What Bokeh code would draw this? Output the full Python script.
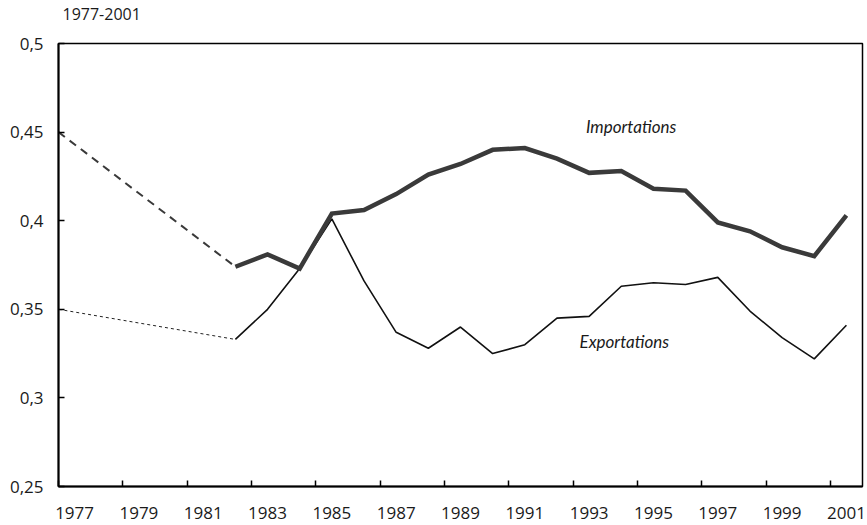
from bokeh.plotting import figure
from bokeh.models import FixedTicker, Range1d, Label, Title
from bokeh.embed import file_html
from bokeh.resources import INLINE

# ---- data ----
years = list(range(1982, 2002))
importations = [0.374, 0.381, 0.373, 0.404, 0.406, 0.415, 0.426, 0.432, 0.440, 0.441,
                0.435, 0.427, 0.428, 0.418, 0.417, 0.399, 0.394, 0.385, 0.380, 0.403]
exportations = [0.333, 0.350, 0.373, 0.401, 0.366, 0.337, 0.328, 0.340, 0.325, 0.330,
                0.345, 0.346, 0.363, 0.365, 0.364, 0.368, 0.349, 0.334, 0.322, 0.341]
start_year = 1977
imp_start = 0.45
exp_start = 0.35
x_tick_labels = [str(y) for y in range(1977, 2002, 2)]
y_ticks = [0.25, 0.3, 0.35, 0.4, 0.45, 0.5]
y_tick_labels = ["0,25", "0,3", "0,35", "0,4", "0,45", "0,5"]
period = "1977-2001"

X_START = start_year - 0.5
X_END = years[-1] + 0.5
Y_MIN, Y_MAX = y_ticks[0], y_ticks[-1]

FONT = "Open Sans"

p = figure(width=867, height=525, output_backend="svg", toolbar_location=None,
           x_range=Range1d(X_START, X_END), y_range=Range1d(Y_MIN, Y_MAX),
           min_border_left=58, min_border_right=5, min_border_top=40, min_border_bottom=39)
p.background_fill_color = "white"
p.border_fill_color = "white"
p.outline_line_color = "black"
p.outline_line_width = 1.5
p.xgrid.visible = False
p.ygrid.visible = False

p.title.text = period
p.title.text_font = FONT
p.title.text_font_style = "normal"
p.title.text_font_size = "16px"
p.title.text_color = "#1a1a1a"
p.title.offset = 4
# small empty spacer between the caption and the frame
p.add_layout(Title(text=" ", text_font_size="7px"), "above")

# x axis: labels at odd years, ticks at category boundaries
xt = FixedTicker(ticks=[int(s) for s in x_tick_labels],
                 minor_ticks=[int(s) - 0.5 for s in x_tick_labels])
p.xaxis.ticker = xt
p.xaxis.major_tick_in = 0
p.xaxis.major_tick_out = 0
p.xaxis.minor_tick_in = 6
p.xaxis.minor_tick_out = 0
p.xaxis.minor_tick_line_width = 1.5
p.xaxis.minor_tick_line_color = "black"
p.xaxis.axis_line_width = 2
p.xaxis.axis_line_color = "black"
p.xaxis.major_label_text_font = FONT
p.xaxis.major_label_text_font_size = "17px"
p.xaxis.major_label_text_color = "#1a1a1a"
p.xaxis.major_label_standoff = 20

p.yaxis.ticker = FixedTicker(ticks=y_ticks)
p.yaxis.major_label_overrides = {t: l for t, l in zip(y_ticks, y_tick_labels)}
p.yaxis.major_tick_in = 6
p.yaxis.major_tick_out = 0
p.yaxis.major_tick_line_width = 1.5
p.yaxis.minor_tick_line_color = None
p.yaxis.axis_line_width = 2
p.yaxis.axis_line_color = "black"
p.yaxis.major_label_text_font = FONT
p.yaxis.major_label_text_font_size = "17px"
p.yaxis.major_label_text_color = "#1a1a1a"
p.yaxis.major_label_standoff = 15

# dashed connections from the start value
p.line([X_START, years[0]], [imp_start, importations[0]], line_color="#3a3a3a",
       line_width=2, line_dash="8 6")
p.line([X_START, years[0]], [exp_start, exportations[0]], line_color="#222222",
       line_width=1, line_dash="3 3")

p.line(years, exportations, line_color="#111111", line_width=1.6)
p.line(years, importations, line_color="#3a3a3a", line_width=4.5, line_join="miter")

for txt, xx, yy in [("Importations", 1992.9, 0.453), ("Exportations", 1992.7, 0.332)]:
    p.add_layout(Label(x=xx, y=yy, text=txt, text_font="Lato", text_font_style="italic",
                       text_font_size="17px", text_color="#1a1a1a", text_baseline="middle"))

open("out.html", "w").write(file_html(p, INLINE))
